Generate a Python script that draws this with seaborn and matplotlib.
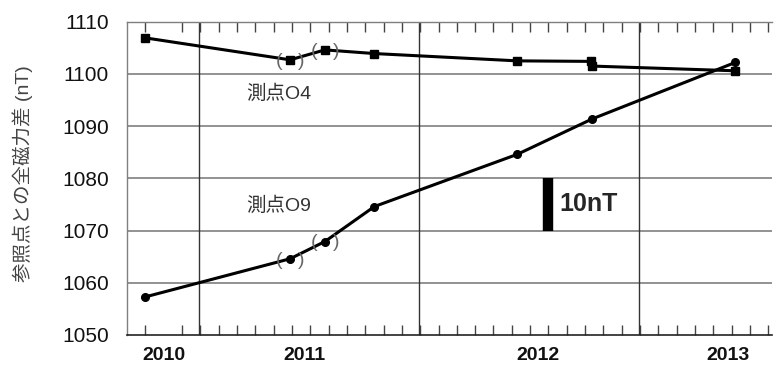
import matplotlib
matplotlib.use("Agg")
import matplotlib.pyplot as plt
import seaborn as sns
import pandas as pd

# x = months from the left edge of the axis
months_04 = [1.0, 8.9, 10.8, 13.5, 21.3, 25.3, 25.4, 33.2]
values_04 = [1106.9, 1102.7, 1104.6, 1103.9, 1102.5, 1102.4, 1101.5, 1100.6]
months_09 = [1.0, 8.9, 10.8, 13.5, 21.3, 25.4, 33.2]
values_09 = [1057.3, 1064.6, 1067.9, 1074.6, 1084.6, 1091.4, 1102.2]
# points shown in brackets (index into each series)
bracketed_04 = [1, 2]
bracketed_09 = [1, 2]

year_labels = ["2010", "2011", "2012", "2013"]
year_label_pos = [2.0, 9.7, 22.4, 32.8]
year_bounds = [3.93, 15.93, 27.93]
month_ticks = list(range(1, 36))
y_ticks = [1050, 1060, 1070, 1080, 1090, 1100, 1110]

df04 = pd.DataFrame({"month": months_04, "value": values_04})
df09 = pd.DataFrame({"month": months_09, "value": values_09})

sns.set_style("white")
plt.rcParams["font.family"] = ["Liberation Sans", "Noto Sans CJK JP"]

fig = plt.figure(figsize=(7.75, 3.66), dpi=100)
ax = fig.add_axes([127 / 775, 1 - 335 / 366, (772 - 127) / 775, (335 - 21.7) / 366])

sns.lineplot(data=df04, x="month", y="value", sort=False, color="black",
             linewidth=2.2, marker="s", markersize=5.5, markeredgecolor="black",
             markeredgewidth=1, ax=ax, zorder=5)
sns.lineplot(data=df09, x="month", y="value", sort=False, color="black",
             linewidth=2.2, marker="o", markersize=5.5, markeredgecolor="black",
             markeredgewidth=1, ax=ax, zorder=5)

for i in bracketed_04:
    for dx, s in [(-8, "("), (8, ")")]:
        ax.annotate(s, (months_04[i], values_04[i]), xytext=(dx, -1),
                    textcoords="offset points", ha="center", va="center",
                    fontsize=14, color="#666666", zorder=6)
for i in bracketed_09:
    for dx, s in [(-8, "("), (8, ")")]:
        ax.annotate(s, (months_09[i], values_09[i]), xytext=(dx, -1),
                    textcoords="offset points", ha="center", va="center",
                    fontsize=14, color="#666666", zorder=6)

# grid
for y in y_ticks[1:-1]:
    ax.axhline(y, color="#7f7f7f", linewidth=1.2, zorder=1)
for xb in year_bounds:
    ax.axvline(xb, color="#333333", linewidth=1.0, zorder=1)

# scale bar
ax.plot([23.0, 23.0], [1070, 1080], color="black", linewidth=7.5,
        solid_capstyle="butt", zorder=4)
ax.text(23.6, 1075, "10nT", fontsize=18, fontweight="bold", va="center", ha="left")

ax.text(6.5, 1096.3, "測点O4", fontsize=14, color="#333333", va="center")
ax.text(6.5, 1074.7, "測点O9", fontsize=14, color="#333333", va="center")

ax.set_xlim(0, 35.2)
ax.set_ylim(1050, 1110)
ax.set_yticks(y_ticks)
ax.set_yticklabels([str(v) for v in y_ticks], fontsize=15, color="#111111")
ax.set_xticks(year_label_pos)
ax.set_xticklabels(year_labels, fontsize=14, fontweight="bold", color="#111111")
ax.set_xticks(month_ticks, minor=True)
ax.tick_params(axis="x", which="major", length=0, pad=9)
ax.tick_params(axis="x", which="minor", direction="in", length=7, width=1,
               color="#444444", top=True, bottom=True)
ax.tick_params(axis="y", length=0, pad=13)
ax.set_xlabel("")
ax.set_ylabel("参照点との全磁力差 (nT)", fontsize=14, color="#444444")
ax.yaxis.set_label_coords(-0.146, 0.515)

for side in ["left", "top", "right"]:
    ax.spines[side].set_color("#7f7f7f")
    ax.spines[side].set_linewidth(1.0)
ax.spines["right"].set_visible(False)
ax.spines["bottom"].set_color("#222222")
ax.spines["bottom"].set_linewidth(1.2)

fig.savefig("out.png", dpi=100)
